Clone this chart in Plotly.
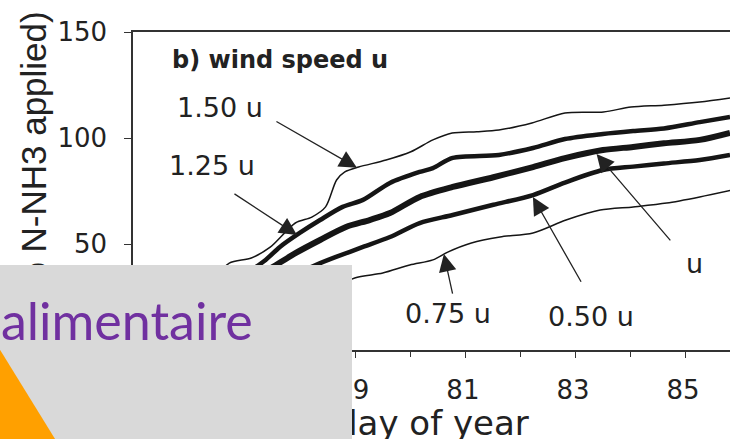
import numpy as np
import plotly.graph_objects as go

# Cumulative NH3 loss (% of applied N-NH3) against day of year, one series per wind-speed factor
days_u150 = [75.0, 75.5, 76.0, 76.4, 76.7, 77.1, 77.45, 77.9, 78.2, 78.45, 78.65, 78.8, 79.05,
             79.55, 80.0, 80.4, 80.75, 81.2, 81.6, 82.2, 82.8, 83.5, 84.0, 84.6, 85.25, 85.8]
loss_u150 = [0, 8, 20, 33, 41, 43.4, 48.6, 59.9, 62.7, 67.5, 80.2, 84.0, 86.3,
             89.6, 93.5, 99.1, 102.4, 103.0, 103.8, 107.1, 111.8, 112.3, 114.6, 115.5, 117.0, 118.9]

days_u125 = [75.0, 75.5, 76.0, 76.5, 77.0, 77.36, 77.62, 77.98, 78.35, 78.76, 79.13, 79.62,
             80.16, 80.4, 80.76, 81.6, 82.22, 82.8, 83.49, 84.04, 84.6, 85.25, 85.8]
loss_u125 = [0, 7, 17, 28, 36, 42.5, 48.6, 55.2, 61.3, 67.5, 70.8, 78.8,
             84.0, 85.8, 90.6, 92.0, 95.3, 99.5, 101.9, 103.3, 104.5, 107.5, 109.9]

days_u100 = [75.0, 75.5, 76.0, 76.5, 77.0, 77.55, 77.91, 78.35, 78.82, 79.25, 79.62, 80.16,
             80.76, 81.5, 82.22, 82.8, 83.49, 84.04, 84.6, 85.25, 85.8]
loss_u100 = [0, 5, 14, 24, 32, 40.1, 45.8, 51.9, 58.0, 61.3, 64.6, 72.2,
             76.9, 81.5, 86.3, 90.5, 94.3, 95.8, 97.5, 99.1, 102.4]

days_u050 = [75.0, 75.5, 76.0, 76.5, 77.0, 77.5, 78.0, 78.27, 78.64, 79.13, 79.62, 80.16,
             80.76, 81.5, 82.22, 82.8, 83.49, 84.04, 84.6, 85.25, 85.8]
loss_u050 = [0, 4, 11, 19, 26, 32, 37, 40.1, 43.9, 48.6, 53.3, 59.9,
             63.7, 68.5, 73.1, 79.0, 84.9, 86.5, 88.0, 89.6, 92.0]

days_u075 = [75.0, 76.0, 77.0, 78.0, 78.5, 78.98, 79.49, 79.98, 80.4, 80.67, 81.1, 81.62,
             82.22, 82.82, 83.44, 84.04, 84.65, 85.25, 85.85]
loss_u075 = [0, 6, 14, 22, 28, 34.0, 36.3, 40.1, 42.5, 46.2, 50.5, 53.3,
             55.2, 61.3, 66.0, 67.5, 69.3, 72.2, 75.5]

x_ticks_major = [75, 77, 79, 81, 83, 85]
y_ticks = [50, 100, 150]

W, H = 730, 439
ML, MR, MT, MB = 133, 0, 32, 89
PW, PH = W - ML - MR, H - MT - MB
INK = "#222222"
GREY = "#d9d9d9"


def paper(px, py):
    """Convert a pixel position on the page into paper coordinates."""
    return (px - ML) / PW, (H - MB - py) / PH


fig = go.Figure()

series = [
    ("1.50 u", days_u150, loss_u150, 1.5),
    ("1.25 u", days_u125, loss_u125, 4.5),
    ("u", days_u100, loss_u100, 6.0),
    ("0.50 u", days_u050, loss_u050, 4.5),
    ("0.75 u", days_u075, loss_u075, 1.5),
]
for name, d, v, w in series:
    fig.add_trace(go.Scatter(x=d, y=v, mode="lines", name=name,
                             line=dict(color="#151515", width=w, shape="spline", smoothing=0.8),
                             showlegend=False))

axis_font = dict(family="DejaVu Sans", size=26, color=INK)

fig.update_xaxes(range=[74.95, 85.8], tickvals=x_ticks_major, ticks="outside", ticklen=6,
                 tickwidth=1.3, tickcolor="#333", showline=True, linecolor="#333", linewidth=1.5,
                 mirror=True, showgrid=False, zeroline=False, tickfont=axis_font,
                 ticklabelstandoff=10, ticklabelshift=-3,
                 minor=dict(dtick=1, tick0=75, ticks="outside", ticklen=5, tickwidth=1.2,
                            tickcolor="#333", showgrid=False))
fig.update_yaxes(range=[0, 150], tickvals=y_ticks, ticks="outside", ticklen=7, tickwidth=1.3,
                 tickcolor="#333", showline=True, linecolor="#333", linewidth=1.5,
                 mirror=False, showgrid=False, zeroline=False, tickfont=axis_font,
                 ticklabelstandoff=12)

label_font = dict(family="DejaVu Sans", size=27, color=INK)
annotations = [
    dict(x=77.62, y=136.8, text="<b>b) wind speed u</b>",
         font=dict(family="DejaVu Sans", size=24, color=INK)),
    dict(x=76.53, y=114.6, text="1.50 u", font=label_font),
    dict(x=76.39, y=86.8, text="1.25 u", font=label_font),
    dict(x=85.16, y=41.0, text="u", font=label_font),
    dict(x=83.27, y=16.0, text="0.50 u", font=label_font),
    dict(x=80.67, y=17.0, text="0.75 u", font=label_font),
]
for a in annotations:
    a.update(xref="x", yref="y", showarrow=False, xanchor="center", yanchor="middle")

# arrows: tip on the curve at the given day, tail offset in pixels
arrows = [
    (days_u150, loss_u150, 79.02, -82, -47, 0),
    (days_u125, loss_u125, 77.93, -64, -42, 0),
    (days_u100, loss_u100, 83.34, 77, 90, 3),
    (days_u050, loss_u050, 82.20, 50, 88, 2),
    (days_u075, loss_u075, 80.60, 9, 41, 0),
]
for d, v, day, dx, dy, so in arrows:
    annotations.append(dict(x=day, y=float(np.interp(day, d, v)), xref="x", yref="y",
                            ax=dx, ay=dy, text="", showarrow=True, arrowhead=2,
                            arrowsize=2.7, arrowwidth=1.3, arrowcolor=INK, standoff=so))

# axis titles
yx, yy = paper(33, 158)
annotations.append(dict(x=yx, y=yy, xref="paper", yref="paper", text="(% N-NH3 applied)",
                        textangle=-90, showarrow=False, xanchor="center", yanchor="middle",
                        font=dict(family="Liberation Sans", size=35, color=INK)))
tx, ty = paper(432, 423)
annotations.append(dict(x=tx, y=ty, xref="paper", yref="paper", text="day of year",
                        showarrow=False, xanchor="center", yanchor="middle",
                        font=dict(family="DejaVu Sans", size=34, color=INK)))

# grey panel patches lying over the axis titles
for (x0, y0, x1, y1) in [(0, 265, 352, 348), (290, 395, 352, 450)]:
    px_, py_ = paper(x0, y0)
    annotations.append(dict(x=px_, y=py_, xref="paper", yref="paper", text="",
                            showarrow=False, xanchor="left", yanchor="top",
                            width=x1 - x0, height=y1 - y0, bgcolor=GREY,
                            borderpad=0, borderwidth=0))

ax_, ay_ = paper(255, 320)
annotations.append(dict(x=ax_, y=ay_, xref="paper", yref="paper", text="alimentaire",
                        showarrow=False, xanchor="right", yanchor="middle",
                        font=dict(family="Lato", size=52, color="#7030a0")))

# grey panel and orange corner
bx0, by0 = paper(-10, 265)
bx1, by1 = paper(352, 460)
shapes = [dict(type="rect", xref="paper", yref="paper", x0=bx0, y0=by1, x1=bx1, y1=by0,
               fillcolor=GREY, line=dict(width=0), layer="above")]
p1 = paper(-6, 340)
p2 = paper(68, 460)
p3 = paper(-6, 460)
shapes.append(dict(type="path", xref="paper", yref="paper",
                   path=f"M{p1[0]},{p1[1]} L{p2[0]},{p2[1]} L{p3[0]},{p3[1]} Z",
                   fillcolor="#ffa000", line=dict(width=0), layer="above"))

fig.update_layout(width=W, height=H, margin=dict(l=ML, r=MR, t=MT, b=MB),
                  paper_bgcolor="white", plot_bgcolor="white",
                  annotations=annotations, shapes=shapes)

fig.write_html("out.html")
